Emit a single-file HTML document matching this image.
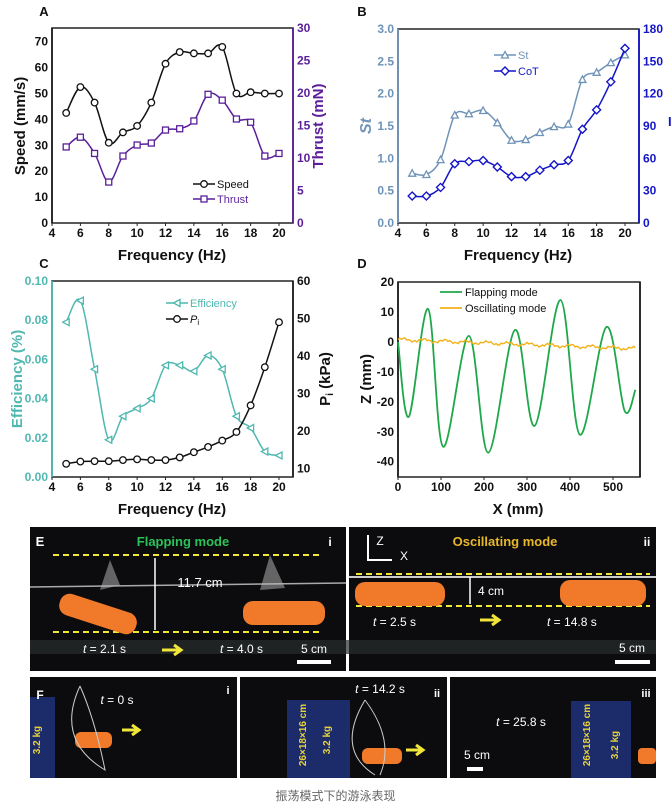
<!DOCTYPE html>
<html><head><meta charset="utf-8"><style>
body{margin:0;background:#fff;width:671px;height:810px;overflow:hidden;font-family:"Liberation Sans",Arial,sans-serif}
svg{position:absolute;left:0;top:0}
</style></head><body>
<svg id="s" width="671" height="810" xmlns="http://www.w3.org/2000/svg" font-family="Liberation Sans, Arial, sans-serif"></svg>
<div style="position:absolute;left:0;top:787px;width:671px;text-align:center;font-size:12px;color:#666;font-family:'Liberation Sans','Noto Sans CJK SC',sans-serif">振荡模式下的游泳表现</div>
<script>
const S=document.getElementById('s');let h='';
function cr(p){if(p.length<2)return'';let d='M'+p[0][0].toFixed(1)+','+p[0][1].toFixed(1);for(let i=0;i<p.length-1;i++){const p0=p[i-1]||p[i],p1=p[i],p2=p[i+1],p3=p[i+2]||p2;const c1=[p1[0]+(p2[0]-p0[0])/6,p1[1]+(p2[1]-p0[1])/6],c2=[p2[0]-(p3[0]-p1[0])/6,p2[1]-(p3[1]-p1[1])/6];d+=`C${c1[0].toFixed(1)},${c1[1].toFixed(1)} ${c2[0].toFixed(1)},${c2[1].toFixed(1)} ${p2[0].toFixed(1)},${p2[1].toFixed(1)}`}return d}
function t(x,y,s,o){o=o||{};h+=`<text x="${x}" y="${y}" font-size="${o.fs||12}" font-weight="${o.fw||'bold'}" fill="${o.c||'#111'}" text-anchor="${o.a||'middle'}" ${o.tr?`transform="${o.tr}"`:''} ${o.fi?'font-style="italic"':''}>${s}</text>`}
function mk(type,x,y,c){if(type=='o')h+=`<circle cx="${x}" cy="${y}" r="3.3" fill="#fff" stroke="${c}" stroke-width="1.3"/>`;else if(type=='s')h+=`<rect x="${x-3}" y="${y-3}" width="6" height="6" fill="#fff" stroke="${c}" stroke-width="1.3"/>`;else if(type=='t')h+=`<polygon points="${x},${y-3.5} ${x-3.5},${y+3} ${x+3.5},${y+3}" fill="#fff" stroke="${c}" stroke-width="1.3"/>`;else if(type=='d')h+=`<polygon points="${x},${y-4} ${x+4},${y} ${x},${y+4} ${x-4},${y}" fill="#fff" stroke="${c}" stroke-width="1.4"/>`;else if(type=='l')h+=`<polygon points="${x-3.5},${y} ${x+3},${y-3.5} ${x+3},${y+3.5}" fill="#fff" stroke="${c}" stroke-width="1.3"/>`}
function freqX(x0,x1){return f=>x0+(f-4)*(x1-x0)/16}
function frame(L,T,R,B,lc,rc){h+=`<rect x="${L}" y="${T}" width="${R-L}" height="${B-T}" fill="none" stroke="#222" stroke-width="1.5"/>`;h+=`<line x1="${L}" y1="${T}" x2="${L}" y2="${B}" stroke="${lc}" stroke-width="1.8"/><line x1="${R}" y1="${T}" x2="${R}" y2="${B}" stroke="${rc}" stroke-width="1.8"/>`}
function series(fx,fy,xs,ys,c,m){const p=xs.map((x,i)=>[fx(x),fy(ys[i])]);h+=`<path d="${cr(p)}" fill="none" stroke="${c}" stroke-width="1.5"/>`;p.forEach(q=>mk(m,q[0],q[1],c))}
const F=[5,6,7,8,9,10,11,12,13,14,15,16,17,18,19,20];
function xaxis(fx,B){for(let f=4;f<=20;f+=2){t(fx(f),B+14,f);h+=`<line x1="${fx(f)}" y1="${B}" x2="${fx(f)}" y2="${B+3}" stroke="#222"/>`}}
// A
{const L=52,R=293,T=28,B=223,fx=freqX(52,279);frame(L,T,R,B,'#222','#5b1f9a');
const fy=v=>B-v*(B-T)/75.3,fy2=v=>B-v*(B-T)/30;
for(let v=0;v<=70;v+=10){t(L-4,fy(v)+4,v,{a:'end'})}
for(let v=0;v<=30;v+=5){t(R+4,fy2(v)+4,v,{a:'start',c:'#5b1f9a'})}
xaxis(fx,B);t(172,260,'Frequency (Hz)',{fs:15});t(44,16,'A',{fs:13});
t(25,126,'Speed (mm/s)',{fs:15,tr:'rotate(-90 25 126)'});t(323,126,'Thrust (mN)',{fs:15,c:'#5b1f9a',tr:'rotate(-90 323 126)'});
series(fx,fy,F,[42.5,52.5,46.5,31,35,37.5,46.5,61.5,66,65.5,65.5,68,50,50.5,50,50],'#111','o');
series(fx,fy2,F,[11.7,13.2,10.7,6.3,10.3,12,12.3,14.3,14.5,15.7,19.8,18.9,16,15.5,10.3,10.7],'#5b1f9a','s');
h+=`<line x1="193" y1="184" x2="215" y2="184" stroke="#111" stroke-width="1.5"/>`;mk('o',204,184,'#111');t(217,188,'Speed',{a:'start',fw:'normal',fs:11});
h+=`<line x1="193" y1="199" x2="215" y2="199" stroke="#5b1f9a" stroke-width="1.5"/>`;mk('s',204,199,'#5b1f9a');t(217,203,'Thrust',{a:'start',fw:'normal',fs:11,c:'#5b1f9a'});}
// B
{const L=398,R=639,T=29,B=223,fx=freqX(398,625),cS='#6f93b8',cC='#1515c8';frame(L,T,R,B,cS,cC);
const fy=v=>B-v*(B-T)/3,fy2=v=>B-v*(B-T)/180;
for(let v=0;v<=3;v+=.5){t(L-4,fy(v)+4,v.toFixed(1),{a:'end',c:cS})}
for(let v=0;v<=180;v+=30){t(R+4,fy2(v)+4,v,{a:'start',c:cC})}
xaxis(fx,B);t(518,260,'Frequency (Hz)',{fs:15});t(362,16,'B',{fs:13});
t(371,126,'St',{fs:16,c:cS,fi:1,tr:'rotate(-90 371 126)'});t(668,126,'I',{fs:13,c:cC,a:'start'});
series(fx,fy,F,[.77,.75,.98,1.67,1.69,1.74,1.55,1.28,1.29,1.4,1.49,1.53,2.22,2.33,2.48,2.6],cS,'t');
series(fx,fy2,F,[25,25,33,55,57,58,52,43,43,49,54,58,87,105,131,162],cC,'d');
h+=`<line x1="494" y1="55" x2="516" y2="55" stroke="${cS}" stroke-width="1.5"/>`;mk('t',505,55,cS);t(518,59,'St',{a:'start',fw:'normal',fs:11,c:cS});
h+=`<line x1="494" y1="71" x2="516" y2="71" stroke="${cC}" stroke-width="1.5"/>`;mk('d',505,71,cC);t(518,75,'CoT',{a:'start',fw:'normal',fs:11,c:cC});}
// C
{const L=52,R=293,T=281,B=477,fx=freqX(52,279),cE='#4fb8b0';frame(L,T,R,B,cE,'#222');
const fy=v=>B-v*(B-T)/0.1,fy2=v=>468.3-(v-10)*3.746;
for(let v=0;v<=0.1001;v+=.02){t(L-4,fy(v)+4,v.toFixed(2),{a:'end',c:cE})}
for(let v=10;v<=60;v+=10){t(R+4,fy2(v)+4,v,{a:'start'})}
xaxis(fx,B);t(172,514,'Frequency (Hz)',{fs:15});t(44,268,'C',{fs:13});
t(22,379,'Efficiency (%)',{fs:15,c:cE,tr:'rotate(-90 22 379)'});t(330,379,'P<tspan font-size="10" dy="3">i</tspan><tspan dy="-3"> (kPa)</tspan>',{fs:15,tr:'rotate(-90 330 379)'});
series(fx,fy,F,[.079,.09,.055,.019,.031,.035,.04,.057,.057,.054,.062,.055,.031,.025,.013,.011],cE,'l');
series(fx,fy2,F,[11.2,11.8,11.9,11.9,12.2,12.4,12.2,12.2,12.9,14.3,15.7,17.4,19.7,26.8,37,49],'#111','o');
h+=`<line x1="166" y1="303" x2="188" y2="303" stroke="${cE}" stroke-width="1.5"/>`;mk('l',177,303,cE);t(190,307,'Efficiency',{a:'start',fw:'normal',fs:11,c:cE});
h+=`<line x1="166" y1="319" x2="188" y2="319" stroke="#111" stroke-width="1.5"/>`;mk('o',177,319,'#111');t(190,323,'<tspan font-style="italic">P</tspan><tspan font-size="8" dy="2">i</tspan>',{a:'start',fw:'normal',fs:11});}
// D
{const L=398,R=640,T=282,B=477,fx=x=>398+x*0.43,fy=z=>282+(20-z)*2.995;frame(L,T,R,B,'#222','#222');
for(let z=20;z>=-40;z-=10){t(L-4,fy(z)+4,z,{a:'end'})}
for(let x=0;x<=500;x+=100){t(fx(x),B+14,x);h+=`<line x1="${fx(x)}" y1="${B}" x2="${fx(x)}" y2="${B+3}" stroke="#222"/>`}
t(518,514,'X (mm)',{fs:15});t(362,268,'D',{fs:13});t(371,379,'Z (mm)',{fs:15,tr:'rotate(-90 371 379)'});
const g=[[0,0],[25,-25],[70,11],[105,-35],[165,2],[210,-37],[272,4],[318,-28],[378,14],[423,-31],[485,5],[527,-23],[552,-16]].map(p=>[fx(p[0]),fy(p[1])]);
h+=`<path d="${cr(g)}" fill="none" stroke="#1fa84a" stroke-width="1.8"/>`;
let y=[];for(let x=0;x<=552;x+=4){const z=0.8-x*0.0055+Math.sin(x*1.7)*0.45+Math.sin(x*0.53)*0.3;y.push(fx(x).toFixed(1)+','+fy(z).toFixed(1))}
h+=`<polyline points="${y.join(' ')}" fill="none" stroke="#f2b21a" stroke-width="1.4"/>`;
h+=`<line x1="440" y1="292" x2="462" y2="292" stroke="#1fa84a" stroke-width="1.8"/>`;t(465,296,'Flapping mode',{a:'start',fw:'normal',fs:11});
h+=`<line x1="440" y1="308" x2="462" y2="308" stroke="#f2b21a" stroke-width="1.8"/>`;t(465,312,'Oscillating mode',{a:'start',fw:'normal',fs:11});}
// Photos
function panel(x,y,w,hh){h+=`<rect x="${x}" y="${y}" width="${w}" height="${hh}" fill="#0c0c0e"/>`}
panel(30,527,316,144);panel(349,527,307,144);
h+=`<rect x="30" y="640" width="626" height="14" fill="#2a2d2c" opacity=".7"/>`;
h+=`<line x1="30" y1="587" x2="346" y2="583" stroke="#aaa" stroke-width="1.5"/><line x1="349" y1="577" x2="656" y2="577" stroke="#ccc" stroke-width="2"/>`;
[[53,555,320,555],[53,632,320,632],[356,574,650,574],[356,606,650,606]].forEach(l=>h+=`<line x1="${l[0]}" y1="${l[1]}" x2="${l[2]}" y2="${l[3]}" stroke="#f1e63a" stroke-width="2" stroke-dasharray="6,4"/>`);
h+=`<rect x="58" y="603" width="80" height="22" rx="10" fill="#f07a2a" transform="rotate(18 98 614)"/><rect x="243" y="601" width="82" height="24" rx="10" fill="#f07a2a"/>`;
h+=`<rect x="355" y="582" width="90" height="24" rx="10" fill="#f07a2a"/><rect x="560" y="580" width="86" height="26" rx="10" fill="#f07a2a"/>`;
h+=`<path d="M100 590 L110 560 L120 585Z M260 590 L270 555 L285 588Z" fill="#bbb" opacity=".5"/>`;
h+=`<line x1="155" y1="558" x2="155" y2="630" stroke="#fff" stroke-width="1.5"/><line x1="470" y1="577" x2="470" y2="604" stroke="#fff" stroke-width="1.5"/>`;
t(40,546,'E',{fs:13,c:'#fff'});t(183,546,'Flapping mode',{fs:13,c:'#2cc25a'});t(330,546,'i',{fs:12,c:'#fff'});
t(200,587,'11.7 cm',{fs:13,c:'#fff',fw:'normal'});t(83,653,'<tspan font-style="italic">t</tspan> = 2.1 s',{fs:12,c:'#fff',fw:'normal',a:'start'});t(220,653,'<tspan font-style="italic">t</tspan> = 4.0 s',{fs:12,c:'#fff',fw:'normal',a:'start'});
t(314,653,'5 cm',{fs:12,c:'#fff',fw:'normal'});h+=`<rect x="297" y="660" width="34" height="4" fill="#fff"/>`;
t(505,546,'Oscillating mode',{fs:13,c:'#e8b82a'});t(647,546,'ii',{fs:12,c:'#fff'});
h+=`<path d="M368 535 V560 H392" fill="none" stroke="#fff" stroke-width="2"/>`;t(380,545,'Z',{fs:12,c:'#fff',fw:'normal'});t(404,560,'X',{fs:12,c:'#fff',fw:'normal'});
t(478,595,'4 cm',{fs:12,c:'#fff',fw:'normal',a:'start'});t(373,626,'<tspan font-style="italic">t</tspan> = 2.5 s',{fs:12,c:'#fff',fw:'normal',a:'start'});t(547,626,'<tspan font-style="italic">t</tspan> = 14.8 s',{fs:12,c:'#fff',fw:'normal',a:'start'});
t(632,652,'5 cm',{fs:12,c:'#fff',fw:'normal'});h+=`<rect x="615" y="660" width="35" height="4" fill="#fff"/>`;
[[162,650],[480,620]].forEach(a=>h+=`<path d="M${a[0]} ${a[1]} h18 M${a[0]+12} ${a[1]-5} l7 5 l-7 5" stroke="#f1e63a" stroke-width="3" fill="none"/>`);
panel(30,677,207,101);panel(240,677,207,101);panel(450,677,206,101);
h+=`<rect x="30" y="697" width="25" height="81" fill="#1c2c6a"/><rect x="287" y="700" width="63" height="78" fill="#1c2c6a"/><rect x="571" y="701" width="60" height="77" fill="#1c2c6a"/>`;
h+=`<rect x="75" y="732" width="37" height="16" rx="6" fill="#f07a2a"/><rect x="362" y="748" width="40" height="16" rx="6" fill="#f07a2a"/><rect x="638" y="748" width="18" height="16" rx="4" fill="#f07a2a"/>`;
h+=`<path d="M80 686 Q55 740 105 770 Q95 720 80 686" fill="none" stroke="#ccc"/><path d="M365 700 Q335 750 375 775 M365 700 Q395 740 380 775" fill="none" stroke="#ccc"/>`;
t(40,699,'F',{fs:12,c:'#fff'});t(117,704,'<tspan font-style="italic">t</tspan> = 0 s',{fs:12,c:'#fff',fw:'normal'});t(228,694,'i',{fs:11,c:'#fff'});
t(380,693,'<tspan font-style="italic">t</tspan> = 14.2 s',{fs:12,c:'#fff',fw:'normal'});t(437,697,'ii',{fs:11,c:'#fff'});
t(521,726,'<tspan font-style="italic">t</tspan> = 25.8 s',{fs:12,c:'#fff',fw:'normal'});t(646,697,'iii',{fs:11,c:'#fff'});
t(477,759,'5 cm',{fs:12,c:'#fff',fw:'normal'});h+=`<rect x="467" y="767" width="16" height="4" fill="#fff"/>`;
t(40,740,'3.2 kg',{fs:10,c:'#e8d23a',tr:'rotate(-90 40 740)'});t(330,740,'3.2 kg',{fs:10,c:'#e8d23a',tr:'rotate(-90 330 740)'});t(306,735,'26×18×16 cm',{fs:10,c:'#e8d23a',tr:'rotate(-90 306 735)'});
t(618,745,'3.2 kg',{fs:10,c:'#e8d23a',tr:'rotate(-90 618 745)'});t(590,735,'26×18×16 cm',{fs:10,c:'#e8d23a',tr:'rotate(-90 590 735)'});
[[122,730],[406,750]].forEach(a=>h+=`<path d="M${a[0]} ${a[1]} h16 M${a[0]+10} ${a[1]-5} l7 5 l-7 5" stroke="#f1e63a" stroke-width="3" fill="none"/>`);
S.innerHTML=h;
</script>
</body></html>
